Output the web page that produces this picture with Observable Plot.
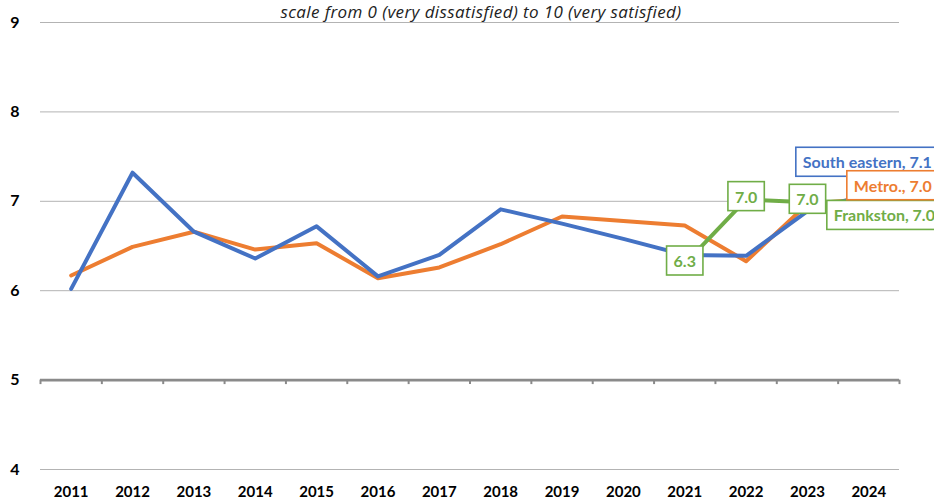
<!DOCTYPE html>
<html>
<head>
<meta charset="utf-8">
<script src="https://cdn.jsdelivr.net/npm/d3@7"></script>
<script src="https://cdn.jsdelivr.net/npm/@observablehq/plot@0.6"></script>
<style>
  html, body { margin: 0; padding: 0; background: #fff; overflow: hidden; }
  svg { display: block; }
</style>
</head>
<body>
<div id="chart"></div>
<script>
// ---- data ----
const subtitle = "scale from 0 (very dissatisfied) to 10 (very satisfied)";
const years = [2011, 2012, 2013, 2014, 2015, 2016, 2017, 2018, 2019, 2020, 2021, 2022, 2023, 2024];
const southEastern = [6.02, 7.32, 6.66, 6.36, 6.72, 6.16, 6.40, 6.91, 6.75, 6.58, 6.40, 6.39, 6.89, 7.08];
const metro        = [6.17, 6.49, 6.66, 6.46, 6.53, 6.14, 6.26, 6.52, 6.83, 6.78, 6.73, 6.33, 6.97, 7.03];
const frankstonYears = [2021, 2022, 2023, 2024];
const frankston      = [6.30, 7.02, 6.99, 7.00];
const seriesNames = ["South eastern", "Metro.", "Frankston"];
const yTicks = [4, 5, 6, 7, 8, 9];

// ---- derived tables ----
const blue = "#4472C4", orange = "#ED7D31", green = "#70AD47";
const seData = years.map((y, i) => ({year: y, value: southEastern[i]}));
const meData = years.map((y, i) => ({year: y, value: metro[i]}));
const frData = frankstonYears.map((y, i) => ({year: y, value: frankston[i]}));
const boundaries = d3.range(years[0] - 0.5, years[years.length - 1] + 1, 1);
const gridValues = yTicks.filter(v => v !== 5);
const last = arr => arr[arr.length - 1];
const fmt = v => v.toFixed(1);

const frPointLabels = frData.slice(0, 3).map(d => ({...d, label: fmt(d.value)}));
const seEnd = {year: last(years), value: last(southEastern), label: `${seriesNames[0]}, ${fmt(last(southEastern))}`};
const meEnd = {year: last(years), value: last(metro), label: `${seriesNames[1]}, ${fmt(last(metro))}`};
const frEnd = {year: last(frankstonYears), value: last(frankston), label: `${seriesNames[2]}, ${fmt(last(frankston))}`};
const boxed = [...frPointLabels, seEnd, meEnd, frEnd].map(d => d.label);

const labelFont = {fontSize: 16, fontWeight: "bold"};

const chart = Plot.plot({
  width: 934,
  height: 501,
  marginLeft: 40,
  marginRight: 35,
  marginTop: 22,
  marginBottom: 32,
  style: {fontFamily: "Lato, 'Open Sans', sans-serif", color: "#000", background: "#fff", overflow: "hidden"},
  x: {domain: [years[0] - 0.5, last(years) + 0.5]},
  y: {domain: [4, 9]},
  marks: [
    Plot.ruleY(gridValues, {stroke: "#b3b3b3", strokeWidth: 1}),
    Plot.ruleY([5], {stroke: "#8a8a8a", strokeWidth: 2.6}),
    Plot.ruleX(boundaries, {y1: 5, y2: 5 - 4.5 / 89.4, stroke: "#8a8a8a", strokeWidth: 2}),
    Plot.axisY(yTicks, {tickSize: 0, tickPadding: 21, fontSize: 16, fontWeight: "bold", tickFormat: d => String(d), label: null}),
    Plot.axisX(years, {tickSize: 0, tickPadding: 17, fontSize: 15, fontWeight: "bold", tickFormat: d => String(d), label: null}),
    Plot.text([subtitle], {frameAnchor: "top", dx: 11, dy: -10, lineAnchor: "middle", fontSize: 17, fontStyle: "italic",
      fontFamily: "'Open Sans', sans-serif", fill: "#222"}),
    Plot.line(meData, {x: "year", y: "value", stroke: orange, strokeWidth: 4, strokeLinejoin: "round"}),
    Plot.line(seData, {x: "year", y: "value", stroke: blue, strokeWidth: 4, strokeLinejoin: "round"}),
    Plot.line(frData, {x: "year", y: "value", stroke: green, strokeWidth: 4, strokeLinejoin: "round"}),
    // Frankston point labels
    Plot.text(frPointLabels, {x: "year", y: "value", text: "label", fill: green, dy: -2, ...labelFont}),
    // end labels
    Plot.text([frEnd], {x: "year", y: "value", text: "label", fill: green, textAnchor: "start", dx: -35, dy: 15, ...labelFont}),
    Plot.text([seEnd], {x: "year", y: "value", text: "label", fill: blue, textAnchor: "start", dx: -66, dy: -31, ...labelFont}),
    Plot.text([meEnd], {x: "year", y: "value", text: "label", fill: orange, textAnchor: "start", dx: -15, dy: -12, ...labelFont})
  ]
});
document.getElementById("chart").append(chart);

// slightly widen the subtitle to match the reference's letter spacing
chart.querySelectorAll("text").forEach(t => {
  if (t.textContent === subtitle) t.setAttribute("letter-spacing", "0.4");
});

// draw white boxes with coloured borders behind the boxed labels
const padX = 7, padY = 5.5;
chart.querySelectorAll("text").forEach(t => {
  if (!boxed.includes(t.textContent)) return;
  const b = t.getBBox();
  const color = getComputedStyle(t).fill;
  const r = document.createElementNS("http://www.w3.org/2000/svg", "rect");
  r.setAttribute("x", b.x - padX);
  r.setAttribute("y", b.y - padY + 0.5);
  r.setAttribute("width", b.width + 2 * padX);
  r.setAttribute("height", b.height + 2 * padY - 1);
  r.setAttribute("fill", "#fff");
  r.setAttribute("stroke", color);
  r.setAttribute("stroke-width", 1.6);
  const tr = t.getAttribute("transform");
  if (tr) r.setAttribute("transform", tr);
  t.parentNode.insertBefore(r, t);
});
</script>
</body>
</html>
